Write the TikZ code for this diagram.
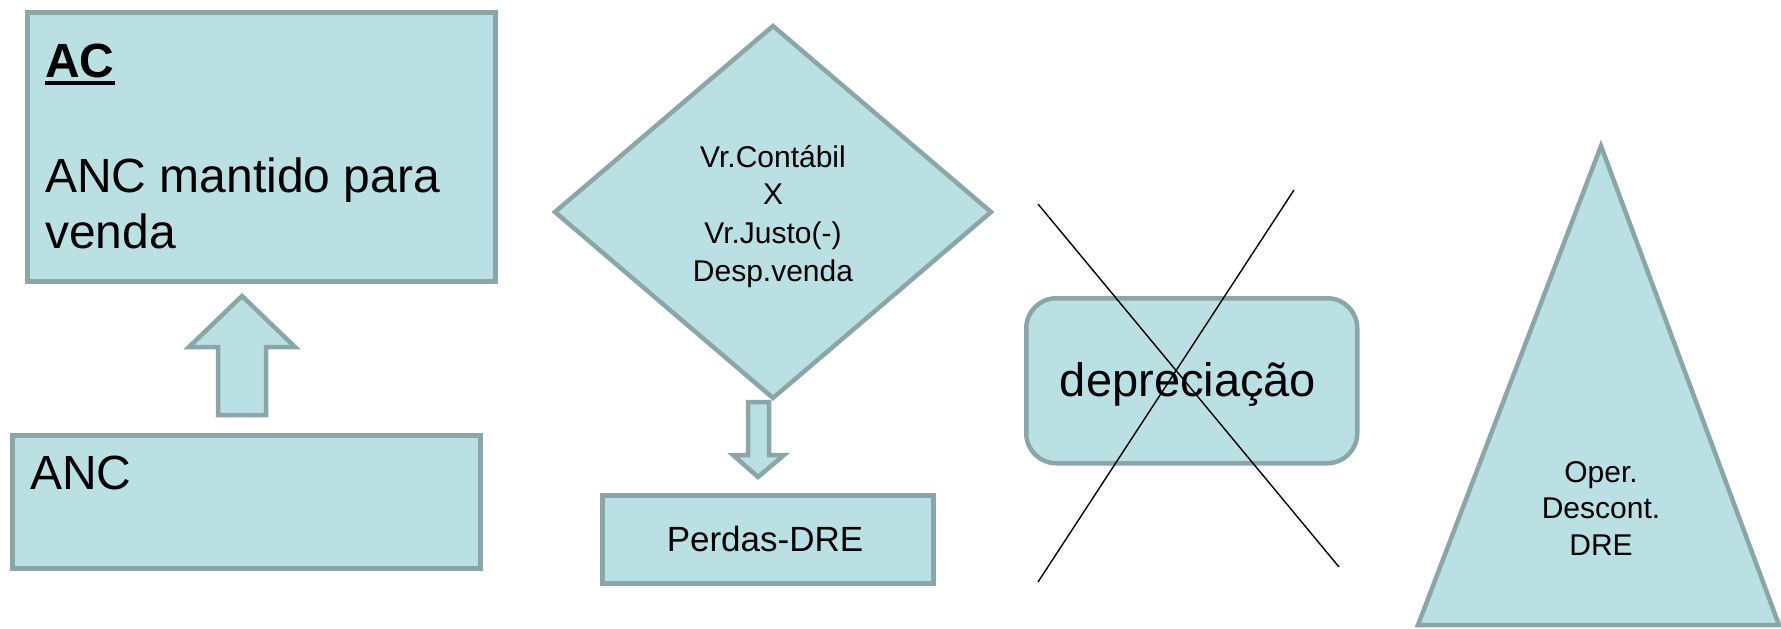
\documentclass[tikz,border=0pt]{standalone}
\usepackage{fontspec}
\setmainfont{Liberation Sans}
\definecolor{boxfill}{HTML}{BBE0E3}
\definecolor{boxline}{HTML}{8AA6A8}
\newcommand{\fs}[1]{\fontsize{#1}{1.17\dimexpr#1pt\relax}\selectfont}
\begin{document}
\begin{tikzpicture}[x=1pt,y=-1pt,
  panel/.style={fill=boxfill,draw=boxline,line width=4.5pt,inner sep=0pt,anchor=north west},
  blockarrow/.style={fill=boxfill,draw=boxline,line width=4.5pt,line join=miter},
  txt/.style={inner sep=0pt,text=black},
  cross/.style={draw=black,line width=1.4pt}]
\useasboundingbox (0,0) rectangle (1781,629);

% left column: AC box fed by ANC box
\node[panel,minimum width=468pt,minimum height=269pt] (ac) at (25,10) {};
\node[txt,anchor=base west,font=\fs{48}\bfseries] (actitle) at (45,77) {AC};
\draw[line width=4pt] ([yshift=-6pt]actitle.base west) -- ([yshift=-6pt]actitle.base east);
\node[txt,anchor=base west,font=\fs{48}] (acl1) at (45,192) {ANC mantido para};
\node[txt,anchor=base west,font=\fs{48}] (acl2) at (45,248) {venda};

\node[panel,minimum width=468pt,minimum height=133pt] (anc) at (10,433) {};
\node[txt,anchor=base west,font=\fs{48}] (anctxt) at (30,489) {ANC};

\draw[blockarrow] (242,296) -- (295,347) -- (266,347) -- (266,415) -- (218,415)
  -- (218,347) -- (189,347) -- cycle;

% middle: comparison diamond leading to losses
\draw[blockarrow] (773,26) -- (991,212) -- (773,398) -- (555,212) -- cycle;
\node[txt,anchor=base,font=\fs{30}] (d1) at (773,167) {Vr.Contábil};
\node[txt,anchor=base,font=\fs{30}] (d2) at (773,204) {X};
\node[txt,anchor=base,font=\fs{30}] (d3) at (773,243) {Vr.Justo(-)};
\node[txt,anchor=base,font=\fs{30}] (d4) at (773,281) {Desp.venda};

\draw[blockarrow] (748,402) -- (769,402) -- (769,455) -- (784,455) -- (758,477)
  -- (733,455) -- (748,455) -- cycle;

\node[panel,minimum width=331pt,minimum height=88pt] (perdas) at (600,493) {};
\node[txt,anchor=base,font=\fs{35}] at (765,551) {Perdas-DRE};

% depreciation, crossed out
\node[panel,rounded corners=30pt,minimum width=331pt,minimum height=165pt] (dep) at (1024,296) {};
\node[txt,anchor=base,font=\fs{47}] (deptxt) at (1188,396) {depreciação};
\coordinate (xa) at (1038,204);
\coordinate (xb) at (1339,567);
\coordinate (xc) at (1038,582);
\coordinate (xd) at (1294,190);
\draw[cross] (xa) -- (xb);
\draw[cross] (xc) -- (xd);

% discontinued operations triangle
\draw[blockarrow] (1601,146) -- (1779,625) -- (1418,625) -- cycle;
\node[txt,anchor=base,font=\fs{30}] (t1) at (1601,482) {Oper.};
\node[txt,anchor=base,font=\fs{30}] (t2) at (1601,518) {Descont.};
\node[txt,anchor=base,font=\fs{30}] (t3) at (1601,555) {DRE};
\end{tikzpicture}
\end{document}
